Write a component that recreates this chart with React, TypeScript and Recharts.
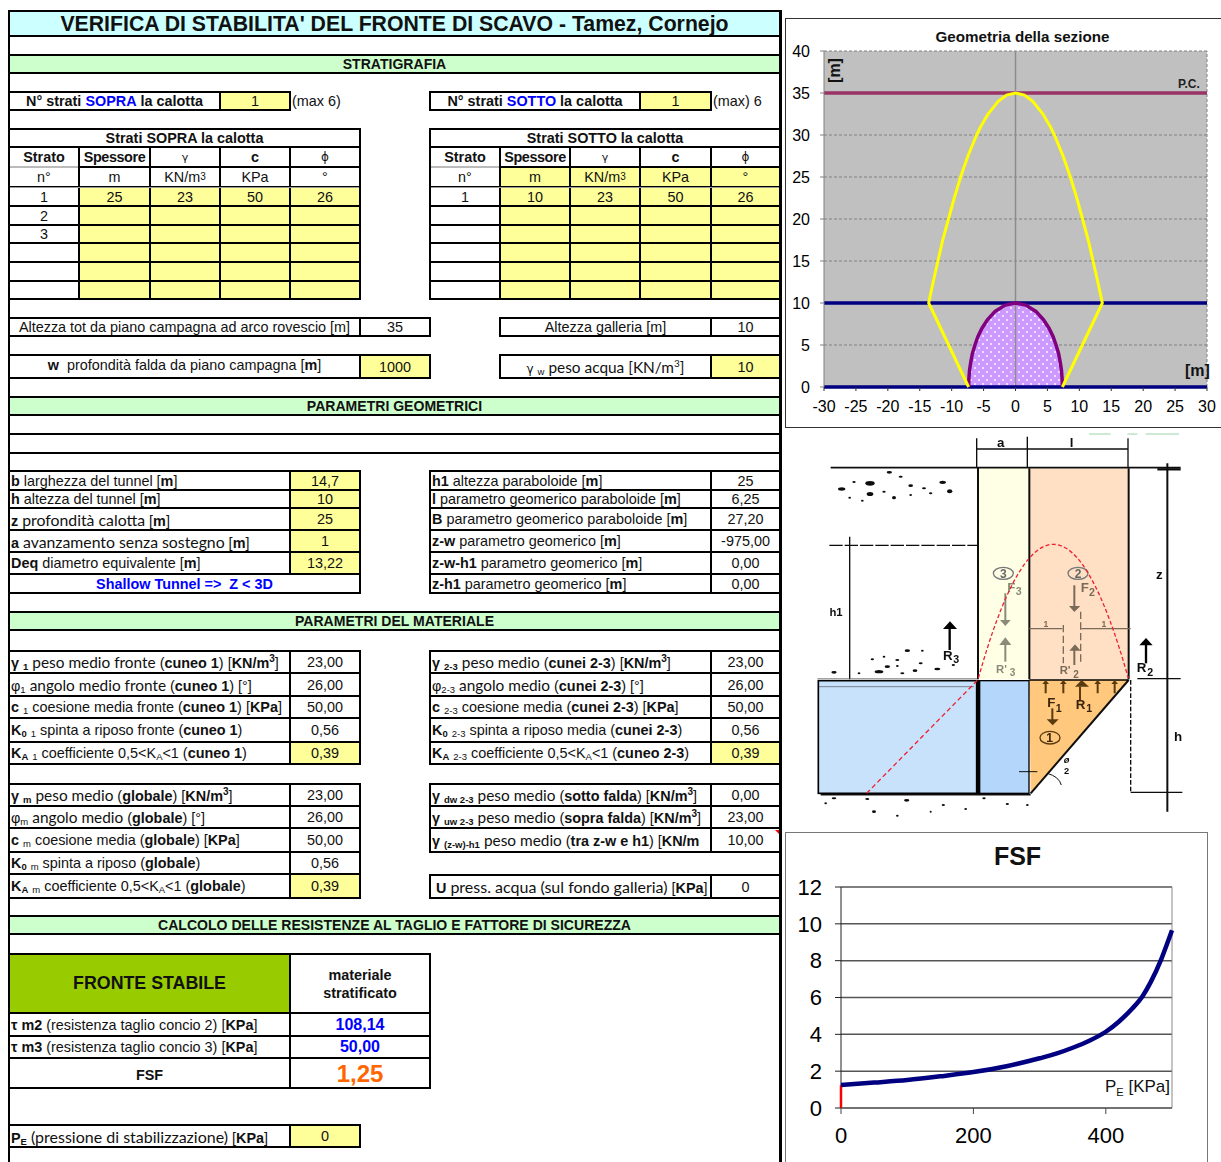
import React from 'react';
import { ComposedChart, Line, Area, XAxis, YAxis, CartesianGrid, ReferenceLine } from 'recharts';

// ---- chart data ----
const GEO_X_TICKS = [-30, -25, -20, -15, -10, -5, 0, 5, 10, 15, 20, 25, 30];
const GEO_Y_TICKS = [0, 5, 10, 15, 20, 25, 30, 35, 40];
const ground = [{ x: -30, y: 35 }, { x: 30, y: 35 }];
const crown = [{ x: -30, y: 10 }, { x: 30, y: 10 }];
const invert = [{ x: -30, y: 0 }, { x: 30, y: 0 }];
const tunnel = [
  { x: -7.35, y: 0 }, { x: -7.3, y: 1 }, { x: -7.2, y: 2 }, { x: -7, y: 3 }, { x: -6.75, y: 4 }, { x: -6.35, y: 5 },
  { x: -5.9, y: 6 }, { x: -5.25, y: 7 }, { x: -4.4, y: 8 }, { x: -3.2, y: 9 }, { x: -1.6, y: 9.75 }, { x: 0, y: 10 },
  { x: 1.6, y: 9.75 }, { x: 3.2, y: 9 }, { x: 4.4, y: 8 }, { x: 5.25, y: 7 }, { x: 5.9, y: 6 }, { x: 6.35, y: 5 },
  { x: 6.75, y: 4 }, { x: 7, y: 3 }, { x: 7.2, y: 2 }, { x: 7.3, y: 1 }, { x: 7.35, y: 0 },
];
const envelope = [
  { x: -7.35, y: 0 }, { x: -13.6, y: 10 }, { x: -12.9, y: 12.5 }, { x: -12.15, y: 15 }, { x: -11.4, y: 17.5 },
  { x: -10.5, y: 20 }, { x: -9.6, y: 22.5 }, { x: -8.6, y: 25 }, { x: -7.45, y: 27.5 }, { x: -6.1, y: 30 },
  { x: -5.45, y: 31 }, { x: -4.3, y: 32.5 }, { x: -2.7, y: 34 }, { x: -1.4, y: 34.75 }, { x: 0, y: 35 },
  { x: 1.4, y: 34.75 }, { x: 2.7, y: 34 }, { x: 4.3, y: 32.5 }, { x: 5.45, y: 31 }, { x: 6.1, y: 30 }, { x: 7.45, y: 27.5 },
  { x: 8.6, y: 25 }, { x: 9.6, y: 22.5 }, { x: 10.5, y: 20 }, { x: 11.4, y: 17.5 }, { x: 12.15, y: 15 },
  { x: 12.9, y: 12.5 }, { x: 13.6, y: 10 }, { x: 7.35, y: 0 },
];

const FSF_X_TICKS = [0, 200, 400];
const FSF_Y_TICKS = [0, 2, 4, 6, 8, 10, 12];
const fsfCurve = [
  { x: 0, y: 1.25 }, { x: 50, y: 1.38 }, { x: 100, y: 1.52 }, { x: 150, y: 1.72 }, { x: 200, y: 1.95 }, { x: 250, y: 2.27 },
  { x: 300, y: 2.7 }, { x: 325, y: 2.95 }, { x: 350, y: 3.27 }, { x: 375, y: 3.65 }, { x: 400, y: 4.14 }, { x: 420, y: 4.7 },
  { x: 440, y: 5.4 }, { x: 456, y: 6.1 }, { x: 468, y: 6.85 }, { x: 484, y: 8.1 }, { x: 494, y: 9.05 }, { x: 500, y: 9.65 },
];
const fsfMarker = [{ x: 0, y: 0 }, { x: 0, y: 1.25 }];

// ---- sheet contents ----
const SOPRA_ROWS = [['1', '25', '23', '50', '26'], ['2', '', '', '', ''], ['3', '', '', '', ''], ['', '', '', '', ''], ['', '', '', '', ''], ['', '', '', '', '']];
const SOTTO_ROWS = [['1', '10', '23', '50', '26'], ['', '', '', '', ''], ['', '', '', '', ''], ['', '', '', '', ''], ['', '', '', '', ''], ['', '', '', '', '']];
const LEFT_COLS = [9, 79, 150, 220, 290, 360];
const RIGHT_COLS = [430, 500, 570, 640, 711, 780];
const STRATI_Y = [147, 167, 187, 206, 225, 243, 262, 281, 299];

const YELLOW = '#FFFF99';
const GREEN = '#CCFFCC';
const ARIAL = '"Liberation Sans", Arial, sans-serif';

const L = ({ children, size = 15.4 }: any) => <span style={{ fontFamily: 'Lato, sans-serif', fontSize: size }}>{children}</span>;
const S = ({ children, b }: any) => <span style={{ fontSize: 9.5, lineHeight: 0, verticalAlign: -2, fontWeight: b ? 700 : 400 }}>{children}</span>;
const M3 = () => <>m<sup style={{ fontSize: 10, lineHeight: 0 }}>3</sup></>;

const GEO_LEFT = [
  [<><b>b</b> larghezza del tunnel [<b>m</b>]</>, '14,7', true],
  [<><b>h</b> altezza del tunnel [<b>m</b>]</>, '10', true],
  [<><b>z</b> <L size={15.8}>profondità calotta</L> [<b>m</b>]</>, '25', true],
  [<><b>a</b> <L size={15.8}>avanzamento senza sostegno</L> [<b>m</b>]</>, '1', true],
  [<><b>Deq</b> diametro equivalente [<b>m</b>]</>, '13,22', true],
];
const GEO_RIGHT = [
  [<><b>h1</b> altezza paraboloide [<b>m</b>]</>, '25', false],
  [<><b>l</b> parametro geomerico paraboloide [<b>m</b>]</>, '6,25', false],
  [<><b>B</b> parametro geomerico paraboloide [<b>m</b>]</>, '27,20', false],
  [<><b>z-w</b> parametro geomerico [<b>m</b>]</>, '-975,00', false],
  [<><b>z-w-h1</b> parametro geomerico [<b>m</b>]</>, '0,00', false],
  [<><b>z-h1</b> parametro geomerico [<b>m</b>]</>, '0,00', false],
];
const MAT_LEFT = [
  [<><b>γ</b> <S b>1</S> <L>peso medio fronte</L> (<b>cuneo 1</b>) [<b>KN/<M3 /></b>]</>, '23,00', false],
  [<>φ<S>1</S> <L>angolo medio fronte</L> (<b>cuneo 1</b>) [°]</>, '26,00', false],
  [<><b>c</b> <S>1</S> coesione media fronte (<b>cuneo 1</b>) [<b>KPa</b>]</>, '50,00', false],
  [<><b>K<S b>0</S></b> <S>1</S> spinta a riposo fronte (<b>cuneo 1</b>)</>, '0,56', false],
  [<><b>K<S b>A</S></b> <S>1</S> coefficiente 0,5&lt;K<S>A</S>&lt;1 (<b>cuneo 1</b>)</>, '0,39', true],
];
const MAT_RIGHT = [
  [<><b>γ</b> <S b>2-3</S> <L>peso medio</L> (<b>cunei 2-3</b>) [<b>KN/<M3 /></b>]</>, '23,00', false],
  [<>φ<S>2-3</S> <L>angolo medio</L> (<b>cunei 2-3</b>) [°]</>, '26,00', false],
  [<><b>c</b> <S>2-3</S> coesione media (<b>cunei 2-3</b>) [<b>KPa</b>]</>, '50,00', false],
  [<><b>K<S b>0</S></b> <S>2-3</S> spinta a riposo media (<b>cunei 2-3</b>)</>, '0,56', false],
  [<><b>K<S b>A</S></b> <S>2-3</S> coefficiente 0,5&lt;K<S>A</S>&lt;1 (<b>cuneo 2-3</b>)</>, '0,39', true],
];
const GLOB_LEFT = [
  [<><b>γ</b> <S b>m</S> <L>peso medio</L> (<b>globale</b>) [<b>KN/<M3 /></b>]</>, '23,00', false],
  [<>φ<S>m</S> <L>angolo medio</L> (<b>globale</b>) [°]</>, '26,00', false],
  [<><b>c</b> <S>m</S> coesione media (<b>globale</b>) [<b>KPa</b>]</>, '50,00', false],
  [<><b>K<S b>0</S></b> <S>m</S> spinta a riposo (<b>globale</b>)</>, '0,56', false],
  [<><b>K<S b>A</S></b> <S>m</S> coefficiente 0,5&lt;K<S>A</S>&lt;1 (<b>globale</b>)</>, '0,39', true],
];
const GLOB_RIGHT = [
  [<><b>γ</b> <S b>dw 2-3</S> <L>peso medio</L> (<b>sotto falda</b>) [<b>KN/<M3 /></b>]</>, '0,00', false],
  [<><b>γ</b> <S b>uw 2-3</S> <L>peso medio</L> (<b>sopra falda</b>) [<b>KN/<M3 /></b>]</>, '23,00', false],
  [<><b>γ</b> <S b>(z-w)-h1</S> <L>peso medio</L> (<b>tra z-w e h1</b>) [<b>KN/m</b></>, '10,00', false],
];

function Cell({ x1, y1, x2, y2, bg, left, style, children }: any) {
  return (
    <div
      style={{
        position: 'absolute',
        left: x1 - 1,
        top: y1 - 1,
        width: x2 - x1 + 2,
        height: y2 - y1 + 2,
        boxSizing: 'border-box',
        border: '2px solid #000',
        background: bg,
        display: 'flex',
        alignItems: 'center',
        justifyContent: left ? 'flex-start' : 'center',
        paddingLeft: left ? 1 : 0,
        whiteSpace: 'pre',
        overflow: 'hidden',
        ...style,
      }}
    >
      {left ? <span>{children}</span> : children}
    </div>
  );
}

function Rule({ x1, x2, y, color = '#000', h = 2 }: any) {
  return <div style={{ position: 'absolute', left: x1, top: y - h / 2, width: x2 - x1, height: h, background: color }} />;
}

function Section({ y1, y2, children }: any) {
  return (
    <Cell x1={9} y1={y1} x2={780} y2={y2} bg={GREEN} style={{ fontWeight: 700, fontSize: 14.05, borderLeft: 'none', borderRight: 'none' }}>
      {children}
    </Cell>
  );
}

function StratiTable({ cols, title, rows, unitBg }: any) {
  const heads = [<b>Strato</b>, <b style={{ letterSpacing: -0.4 }}>Spessore</b>, <span style={{ fontFamily: 'DejaVu Sans', fontSize: 11 }}>γ</span>, <b>c</b>, <span style={{ fontFamily: 'DejaVu Sans', fontSize: 12 }}>ϕ</span>];
  const units = ['n°', 'm', <>KN/<M3 /></>, 'KPa', '°'];
  return (
    <>
      <Cell x1={cols[0]} y1={129} x2={cols[5]} y2={147} style={{ fontWeight: 700 }}>{title}</Cell>
      {heads.map((h, i) => (
        <Cell key={i} x1={cols[i]} y1={147} x2={cols[i + 1]} y2={167}>{h}</Cell>
      ))}
      {units.map((u, i) => (
        <Cell key={i} x1={cols[i]} y1={167} x2={cols[i + 1]} y2={187} bg={i > 0 ? unitBg : undefined}>{u}</Cell>
      ))}
      {rows.map((r: string[], ri: number) =>
        r.map((v, ci) => (
          <Cell key={`${ri}-${ci}`} x1={cols[ci]} y1={STRATI_Y[ri + 2]} x2={cols[ci + 1]} y2={STRATI_Y[ri + 3]} bg={ci > 0 ? YELLOW : undefined}>
            {v}
          </Cell>
        )),
      )}
      <Rule x1={cols[0] + 1} x2={cols[1] - 1} y={167} color="#bbb" />
      <Rule x1={cols[0] + 1} x2={cols[5] - 1} y={187} color="#999" h={1} />
    </>
  );
}

function ParamTable({ x1, split, x2, ys, rows }: any) {
  return rows.map((r: any, i: number) => (
    <React.Fragment key={i}>
      <Cell x1={x1} y1={ys[i]} x2={split} y2={ys[i + 1]} left>{r[0]}</Cell>
      <Cell x1={split} y1={ys[i]} x2={x2} y2={ys[i + 1]} bg={r[2] ? YELLOW : undefined}>{r[1]}</Cell>
    </React.Fragment>
  ));
}

function Sheet() {
  return (
    <>
      <Cell x1={9} y1={11} x2={780} y2={36} bg="#CCFFFF" style={{ fontWeight: 700, fontSize: 21.25, paddingTop: 2, borderLeft: 'none', borderRight: 'none' }}>
        VERIFICA DI STABILITA' DEL FRONTE DI SCAVO - Tamez, Cornejo
      </Cell>
      <Section y1={55} y2={73}>STRATIGRAFIA</Section>

      <Cell x1={9} y1={92} x2={220} y2={110} style={{ fontWeight: 700 }}>N° strati <span style={{ color: '#0000FF' }}>SOPRA</span> la calotta</Cell>
      <Cell x1={220} y1={92} x2={290} y2={110} bg={YELLOW}>1</Cell>
      <div style={{ position: 'absolute', left: 292, top: 93, lineHeight: '16px' }}>(max 6)</div>
      <Cell x1={430} y1={92} x2={640} y2={110} style={{ fontWeight: 700 }}>N° strati <span style={{ color: '#0000FF' }}>SOTTO</span> la calotta</Cell>
      <Cell x1={640} y1={92} x2={711} y2={110} bg={YELLOW}>1</Cell>
      <div style={{ position: 'absolute', left: 713, top: 93, lineHeight: '16px' }}>(max) 6</div>

      <StratiTable cols={LEFT_COLS} title="Strati SOPRA la calotta" rows={SOPRA_ROWS} />
      <StratiTable cols={RIGHT_COLS} title="Strati SOTTO la calotta" rows={SOTTO_ROWS} unitBg={YELLOW} />

      <Cell x1={9} y1={318} x2={360} y2={336}>Altezza tot da piano campagna ad arco rovescio [m]</Cell>
      <Cell x1={360} y1={318} x2={430} y2={336}>35</Cell>
      <Cell x1={500} y1={318} x2={711} y2={336}>Altezza galleria [m]</Cell>
      <Cell x1={711} y1={318} x2={780} y2={336}>10</Cell>
      <Cell x1={9} y1={355} x2={360} y2={378} style={{ paddingBottom: 3 }}><span><b>w</b>  profondità falda da piano campagna [<b>m</b>]</span></Cell>
      <Cell x1={360} y1={355} x2={430} y2={378} bg={YELLOW}>1000</Cell>
      <Cell x1={500} y1={355} x2={711} y2={378}><span><span style={{ fontFamily: 'DejaVu Sans', fontSize: 12 }}>γ</span> <S>w</S> <L>peso acqua [KN/<M3 />]</L></span></Cell>
      <Cell x1={711} y1={355} x2={780} y2={378} bg={YELLOW}>10</Cell>

      <Section y1={397} y2={415}>PARAMETRI GEOMETRICI</Section>
      <Rule x1={9} x2={780} y={434} />
      <Rule x1={9} x2={780} y={453} />

      <ParamTable x1={9} split={290} x2={360} ys={[471, 490, 508, 530, 552, 574]} rows={GEO_LEFT} />
      <Cell x1={9} y1={574} x2={360} y2={593} style={{ color: '#0000FF', fontWeight: 700 }}>Shallow Tunnel =&gt;  Z &lt; 3D</Cell>
      <ParamTable x1={430} split={711} x2={780} ys={[471, 490, 508, 530, 552, 574, 593]} rows={GEO_RIGHT} />

      <Section y1={612} y2={630}>PARAMETRI DEL MATERIALE</Section>
      <ParamTable x1={9} split={290} x2={360} ys={[651, 673, 696, 718, 742, 764]} rows={MAT_LEFT} />
      <ParamTable x1={430} split={711} x2={780} ys={[651, 673, 696, 718, 742, 764]} rows={MAT_RIGHT} />
      <ParamTable x1={9} split={290} x2={360} ys={[784, 806, 828, 852, 874, 898]} rows={GLOB_LEFT} />
      <ParamTable x1={430} split={711} x2={780} ys={[784, 806, 828, 852]} rows={GLOB_RIGHT} />
      <Cell x1={430} y1={875} x2={711} y2={898} left><b> U</b> <L size={16}>press. acqua (sul fondo galleria)</L> [<b>KPa</b>]</Cell>
      <Cell x1={711} y1={875} x2={780} y2={898}>0</Cell>

      <Section y1={916} y2={934}>CALCOLO DELLE RESISTENZE AL TAGLIO E FATTORE DI SICUREZZA</Section>

      <Cell x1={9} y1={954} x2={290} y2={1013} bg="#99CC00" style={{ fontWeight: 700, fontSize: 17.8 }}>FRONTE STABILE</Cell>
      <Cell x1={290} y1={954} x2={430} y2={1013} style={{ fontWeight: 700, whiteSpace: 'normal', textAlign: 'center', lineHeight: '18px' }}>materiale<br />stratificato</Cell>
      <Cell x1={9} y1={1013} x2={290} y2={1036} left><b>τ m2</b> (resistenza taglio concio 2) [<b>KPa</b>]</Cell>
      <Cell x1={290} y1={1013} x2={430} y2={1036} style={{ color: '#0000FF', fontWeight: 700, fontSize: 16 }}>108,14</Cell>
      <Cell x1={9} y1={1036} x2={290} y2={1058} left><b>τ m3</b> (resistenza taglio concio 3) [<b>KPa</b>]</Cell>
      <Cell x1={290} y1={1036} x2={430} y2={1058} style={{ color: '#0000FF', fontWeight: 700, fontSize: 16 }}>50,00</Cell>
      <Cell x1={9} y1={1058} x2={290} y2={1088} style={{ fontWeight: 700, paddingTop: 4 }}>FSF</Cell>
      <Cell x1={290} y1={1058} x2={430} y2={1088} style={{ color: '#FF6600', fontWeight: 700, fontSize: 24, paddingTop: 2 }}>1,25</Cell>

      <Cell x1={9} y1={1125} x2={290} y2={1147} left><b>P<S b>E</S></b> <L size={16}>(pressione di stabilizzazione)</L> [<b>KPa</b>]</Cell>
      <Cell x1={290} y1={1125} x2={360} y2={1147} bg={YELLOW}>0</Cell>

      <div style={{ position: 'absolute', left: 8, top: 10, width: 2, height: 1152, background: '#000' }} />
      <div style={{ position: 'absolute', left: 779, top: 10, width: 2.5, height: 1152, background: '#000' }} />
      <div style={{ position: 'absolute', left: 8, top: 10, width: 773, height: 2, background: '#000' }} />
      <div style={{ position: 'absolute', left: 775, top: 830, width: 0, height: 0, borderTop: '4px solid #f00', borderLeft: '4px solid transparent' }} />
    </>
  );
}

function GeometryChart() {
  return (
    <div style={{ position: 'absolute', left: 785, top: 18, width: 436, height: 410, boxSizing: 'border-box', border: '1px solid #333', borderRight: 'none' }}>
      <div style={{ position: 'absolute', left: -1, top: -1 }}>
        <ComposedChart width={436} height={410} margin={{ top: 33, right: 14, bottom: 0, left: 0 }}>
          <defs>
            <pattern id="tunnelDots" width="8" height="8" patternUnits="userSpaceOnUse">
              <rect width="8" height="8" fill="#CC99FF" />
              <circle cx="2" cy="2" r="0.9" fill="#fff" />
              <circle cx="6" cy="6" r="0.9" fill="#fff" />
            </pattern>
          </defs>
          <CartesianGrid vertical={false} fill="#C0C0C0" fillOpacity={1} stroke="#808080" strokeDasharray="3 2" />
          <XAxis
            type="number"
            dataKey="x"
            domain={[-30, 30]}
            ticks={GEO_X_TICKS}
            interval={0}
            height={41}
            tickSize={4}
            tickMargin={10}
            axisLine={false}
            tickLine={{ stroke: '#333' }}
            tick={{ fontSize: 16, fill: '#000', fontFamily: ARIAL }}
          />
          <YAxis
            type="number"
            domain={[0, 40]}
            ticks={GEO_Y_TICKS}
            interval={0}
            width={39}
            tickSize={4}
            tickMargin={10}
            axisLine={{ stroke: '#808080' }}
            tickLine={{ stroke: '#808080' }}
            tick={{ fontSize: 16, fill: '#000', fontFamily: ARIAL }}
          />
          <ReferenceLine x={0} stroke="#8c8c8c" strokeWidth={1.5} />
          <ReferenceLine x={30} stroke="#808080" strokeDasharray="3 2" />
          <Area data={tunnel} dataKey="y" type="linear" baseValue={0} stroke="none" fill="url(#tunnelDots)" fillOpacity={1} dot={false} activeDot={false} isAnimationActive={false} />
          <Line data={invert} dataKey="y" type="linear" stroke="#000080" strokeWidth={3.5} dot={false} isAnimationActive={false} />
          <Line data={crown} dataKey="y" type="linear" stroke="#000080" strokeWidth={3.5} dot={false} isAnimationActive={false} />
          <Line data={ground} dataKey="y" type="linear" stroke="#993366" strokeWidth={3.5} dot={false} isAnimationActive={false} />
          <Line data={tunnel} dataKey="y" type="linear" stroke="#800080" strokeWidth={3.5} dot={false} isAnimationActive={false} />
          <Line data={envelope} dataKey="y" type="linear" stroke="#FFFF00" strokeWidth={3} dot={false} isAnimationActive={false} />
        </ComposedChart>
      </div>
      <div style={{ position: 'absolute', left: 0, width: 473, top: 10, textAlign: 'center', fontWeight: 700, fontSize: 15.2, lineHeight: '16px' }}>Geometria della sezione</div>
      <div style={{ position: 'absolute', left: 392, top: 59, fontWeight: 700, fontSize: 12, lineHeight: '13px', color: '#222' }}>P.C.</div>
      <div style={{ position: 'absolute', left: 399, top: 343, fontWeight: 700, fontSize: 16, lineHeight: '17px' }}>[m]</div>
      <div style={{ position: 'absolute', left: 36, top: 43, fontWeight: 700, fontSize: 16, lineHeight: '17px', transform: 'rotate(-90deg)' }}>[m]</div>
    </div>
  );
}

function FsfChart() {
  return (
    <div style={{ position: 'absolute', left: 785, top: 832, width: 423, height: 340, boxSizing: 'border-box', border: '1.5px solid #777' }}>
      <div style={{ position: 'absolute', left: -1.5, top: -1.5 }}>
        <ComposedChart width={423} height={330} margin={{ top: 55, right: 36, bottom: 0, left: 0 }}>
          <CartesianGrid vertical={false} stroke="#555" strokeWidth={1.5} />
          <XAxis
            type="number"
            dataKey="x"
            domain={[0, 500]}
            ticks={FSF_X_TICKS}
            interval={0}
            height={54}
            tickSize={6}
            tickMargin={13}
            axisLine={{ stroke: '#666' }}
            tickLine={{ stroke: '#444' }}
            tick={{ fontSize: 22, fill: '#000', fontFamily: ARIAL }}
          />
          <YAxis
            type="number"
            domain={[0, 12]}
            ticks={FSF_Y_TICKS}
            interval={0}
            width={56}
            tickSize={6}
            tickMargin={13}
            axisLine={false}
            tickLine={{ stroke: '#222' }}
            tick={{ fontSize: 22, fill: '#000', fontFamily: ARIAL }}
          />
          <ReferenceLine x={0} stroke="#222" />
          <ReferenceLine x={500} stroke="#888" />
          <Line data={fsfMarker} dataKey="y" type="linear" stroke="#FF0000" strokeWidth={2.5} dot={false} isAnimationActive={false} />
          <Line data={fsfCurve} dataKey="y" type="monotone" stroke="#000080" strokeWidth={4.5} dot={false} isAnimationActive={false} />
        </ComposedChart>
      </div>
      <div style={{ position: 'absolute', left: 0, width: 463, top: 8, textAlign: 'center', fontWeight: 700, fontSize: 25, lineHeight: '30px' }}>FSF</div>
      <div style={{ position: 'absolute', right: 37, top: 244, fontSize: 17, lineHeight: '20px', color: '#111' }}>P<sub style={{ fontSize: 11, lineHeight: 0 }}>E</sub> [KPa]</div>
    </div>
  );
}

// speckled ground of the face scheme, in the 3x coordinates of the drawing
const SPECKS = [
  [258, 160, 14, 7], [173, 177, 11, 5], [258, 192, 10, 6], [210, 156, 5, 3], [330, 203, 6, 5], [380, 167, 7, 4], [476, 157, 10, 5], [497, 184, 8, 6],
  [420, 175, 6, 3], [350, 140, 6, 3], [316, 127, 8, 4], [197, 203, 4, 3], [300, 185, 5, 3], [440, 190, 5, 3], [235, 212, 4, 3], [380, 195, 4, 3],
  [285, 725, 13, 5], [150, 727, 8, 4], [370, 662, 8, 4], [340, 690, 6, 3], [310, 710, 8, 4], [393, 722, 7, 4], [460, 717, 9, 4], [265, 688, 5, 3],
  [300, 680, 4, 3], [410, 700, 6, 3], [508, 705, 5, 3], [225, 730, 4, 3], [355, 730, 6, 3], [415, 662, 4, 3], [340, 708, 4, 3],
  [150, 1105, 7, 3], [250, 1107, 6, 3], [368, 1111, 8, 4], [270, 1145, 6, 4], [340, 1157, 4, 3], [545, 1137, 4, 3], [478, 1125, 5, 3], [600, 1105, 5, 3], [670, 1122, 5, 3], [730, 1125, 4, 3], [125, 1120, 4, 3], [440, 1145, 3, 3],
];

function FaceScheme() {
  const txt = { fontFamily: ARIAL, fontWeight: 700 };
  return (
    <svg width={437} height={395} viewBox="0 0 1311 1185" style={{ position: 'absolute', left: 784, top: 430 }}>
      <defs>
        <filter id="soft"><feGaussianBlur stdDeviation="1.2" /></filter>
      </defs>
      <g filter="url(#soft)">
        <rect x={585} y={112} width={150} height={636} fill="#FFFFE6" />
        <rect x={736} y={115} width={297} height={633} fill="#FFE0C4" />
        <rect x={103} y={752} width={475} height={338} fill="#C8E2FC" />
        <rect x={587} y={752} width={148} height={338} fill="#B3D6FA" />
        <polygon points="736,750 1034,750 740,1090" fill="#FFC87C" />

        {SPECKS.map((s, i) => <ellipse key={i} cx={s[0]} cy={s[1]} rx={s[2]} ry={s[3]} fill="#111" />)}

        <g stroke="#111" strokeWidth={5} fill="none">
          <path d="M140 113 H1190" />
          <path d="M578 57 H1032 M578 25 V112 M730 20 V112 M1032 25 V112" strokeWidth={4} />
          <path d="M582 112 V748 M736 115 V748 M1034 115 V748" strokeWidth={6} />
          <path d="M136 346 H582" strokeDasharray="40 6" strokeWidth={4} />
          <path d="M197 320 V748" strokeWidth={4} />
          <path d="M1150 100 V1145" strokeWidth={6} />
          <path d="M1120 118 H1190" strokeWidth={7} />
          <path d="M1060 746 H1190 M1040 1087 H1195" strokeWidth={4} />
          <path d="M1040 750 V1087" strokeDasharray="14 6" strokeWidth={4} />
          <path d="M740 1090 L1034 750" strokeWidth={6} />
          <path d="M110 1094 H740" strokeWidth={5} />
          <path d="M790 1030 Q825 1040 832 1065 M705 1025 H760" strokeWidth={3} />
          <path d="M100 746 H580 M103 770 H570" strokeWidth={2} stroke="#555" />
          <path d="M915 12 H980 M1030 12 H1060 M1085 12 H1185" stroke="#9ad6a8" strokeWidth={3} />
        </g>
        <rect x={103} y={752} width={475} height={338} fill="none" stroke="#000" strokeWidth={5} />
        <rect x={578} y={750} width={9} height={342} fill="#000" />
        <rect x={587} y={752} width={148} height={338} fill="none" stroke="#000" strokeWidth={4} />
        <path d="M736 750 H1034" stroke="#000" strokeWidth={5} />

        <g stroke="#8a8a78" strokeWidth={6} fill="#8a8a78">
          <path d="M664 490 V570" /><polygon points="648,570 680,570 664,588" stroke="none" />
          <path d="M664 695 V640" /><polygon points="646,645 682,645 664,622" stroke="none" />
        </g>
        <g stroke="#7a6a58" strokeWidth={6} fill="#7a6a58">
          <path d="M871 466 V530" /><polygon points="855,528 889,528 871,546" stroke="none" />
          <path d="M871 705 V660" /><polygon points="856,662 890,662 873,643" stroke="none" />
          <path d="M736 596 H835 M892 596 H1040" strokeWidth={4} />
          <path d="M838 585 V700 M890 545 V695" strokeWidth={4} strokeDasharray="22 10" />
        </g>
        <g stroke="#000" strokeWidth={7} fill="#000">
          <path d="M497 660 V595" /><polygon points="477,597 519,597 498,574" stroke="none" />
          <path d="M1086 700 V645" /><polygon points="1066,646 1106,646 1086,624" stroke="none" />
        </g>
        <g stroke="#5a3a10" strokeWidth={6} fill="#5a3a10">
          <path d="M888 812 V770" /><polygon points="873,770 915,770 893,750" stroke="none" />
          <path d="M805 835 V870" /><polygon points="788,868 824,868 806,886" stroke="none" />
          <path d="M785 790 V760 M838 790 V760 M941 790 V760 M992 790 V760" />
          <polygon points="775,762 795,762 785,750" stroke="none" /><polygon points="828,762 848,762 838,750" stroke="none" />
          <polygon points="931,762 951,762 941,750" stroke="none" /><polygon points="982,762 1002,762 992,750" stroke="none" />
        </g>
        <ellipse cx={658} cy={430} rx={30} ry={18} fill="none" stroke="#777" strokeWidth={4} />
        <ellipse cx={882} cy={430} rx={30} ry={18} fill="none" stroke="#777" strokeWidth={4} />
        <ellipse cx={798} cy={923} rx={30} ry={19} fill="none" stroke="#5a3a10" strokeWidth={4} />

        <g style={txt} fontSize={40} fill="#111">
          <text x={650} y={50} textAnchor="middle">a</text>
          <text x={863} y={50} textAnchor="middle">l</text>
          <text x={1126} y={447} textAnchor="middle">z</text>
          <text x={156} y={558} textAnchor="middle" fontSize={34}>h1</text>
          <text x={1182} y={932} textAnchor="middle">h</text>
          <text x={477} y={690}>R</text><text x={508} y={698} fontSize={32}>3</text>
          <text x={1058} y={727}>R</text><text x={1090} y={738} fontSize={32}>2</text>
          <text x={875} y={837} fill="#3a2408">R</text><text x={907} y={846} fontSize={32} fill="#3a2408">1</text>
          <text x={790} y={832} fill="#3a2408">F</text><text x={815} y={846} fontSize={32} fill="#3a2408">1</text>
          <text x={797} y={936} fontSize={36} textAnchor="middle" fill="#3a2408">1</text>
          <text x={882} y={443} fontSize={36} textAnchor="middle" fill="#666">2</text>
          <text x={658} y={443} fontSize={36} textAnchor="middle" fill="#666">3</text>
          <text x={890} y={486} fill="#7a6a58">F</text><text x={915} y={498} fontSize={32} fill="#7a6a58">2</text>
          <text x={670} y={486} fill="#8a8a78">F</text><text x={695} y={494} fontSize={32} fill="#8a8a78">3</text>
          <text x={636} y={730} fontSize={34} fill="#8a8a78">R'</text><text x={677} y={738} fontSize={30} fill="#8a8a78">3</text>
          <text x={827} y={732} fontSize={34} fill="#7a6a58">R'</text><text x={868} y={744} fontSize={30} fill="#7a6a58">2</text>
          <text x={786} y={590} fontSize={26} textAnchor="middle" fill="#7a6a58">1</text>
          <text x={960} y={590} fontSize={26} textAnchor="middle" fill="#7a6a58">1</text>
          <text x={848} y={1000} fontSize={28} textAnchor="middle" fontStyle="italic">ø</text>
          <text x={848} y={1032} fontSize={28} textAnchor="middle">2</text>
        </g>
      </g>
      <path d="M583 745 Q808 -59 1033 745" fill="none" stroke="#ee2233" strokeWidth={4} strokeDasharray="12 7" />
      <path d="M248 1090 L583 748" fill="none" stroke="#ee2233" strokeWidth={4} strokeDasharray="14 9" />
    </svg>
  );
}

export default function App() {
  return (
    <div style={{ position: 'absolute', left: 0, top: 0, width: 1221, height: 1162, overflow: 'hidden', background: '#fff', fontFamily: ARIAL, fontSize: 14.4, color: '#111' }}>
      <Sheet />
      <GeometryChart />
      <FaceScheme />
      <FsfChart />
    </div>
  );
}
